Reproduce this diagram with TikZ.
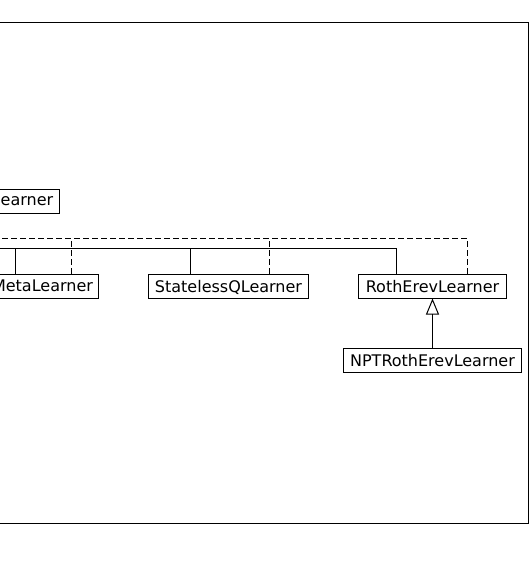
\documentclass[tikz,border=0pt]{standalone}
\usepackage{fontspec}
\setmainfont{DejaVu Sans}
\usetikzlibrary{arrows.meta}
\tikzset{
  cls/.style={draw, line width=1pt, inner sep=0pt, minimum height=24pt, font=\fontsize{16}{18}\selectfont, text depth=0pt},
  gen/.style={line width=1pt},
  real/.style={line width=1pt, dash pattern=on 6pt off 3pt},
}
\begin{document}
\begin{tikzpicture}[x=1pt,y=-1pt]
\useasboundingbox (0,0) rectangle (531,562);
\clip (0,0) rectangle (531,562);
% frame
\draw[line width=1pt] (-20,22.5) -| (528.5,523.5) -- (-20,523.5);
% classes
\node[cls, minimum width=65pt, anchor=east] (learner) at (60,201.5) {earner};
\node[cls, minimum width=112pt, anchor=east] (meta) at (99,286) {MetaLearner};
\node[cls, minimum width=160pt] (stateless) at (228.5,286) {StatelessQLearner};
\node[cls, minimum width=148pt] (roth) at (432.5,286) {RothErevLearner};
\node[cls, minimum width=178pt] (npt) at (432.5,360) {NPTRothErevLearner};
% bus end points (off the visible area, to the left)
\coordinate (genL) at (-10,248);
\coordinate (realL) at (-10,238);
% generalisation (solid)
\draw[gen] (396,0 |- roth.north) |- (genL);
\draw[gen] (190,0 |- stateless.north) -- (190,248);
\draw[gen] (15,0 |- meta.north) -- (15,248);
% realisation (dashed)
\draw[real] (467,0 |- roth.north) |- (realL);
\draw[real] (269,0 |- stateless.north) -- (269,238);
\draw[real] (71,0 |- meta.north) -- (71,238);
% inheritance arrow
\draw[gen, -{Triangle[open, length=16pt, width=13pt, line width=1pt]}] (npt.north) -- (roth.south);
\end{tikzpicture}
\end{document}
